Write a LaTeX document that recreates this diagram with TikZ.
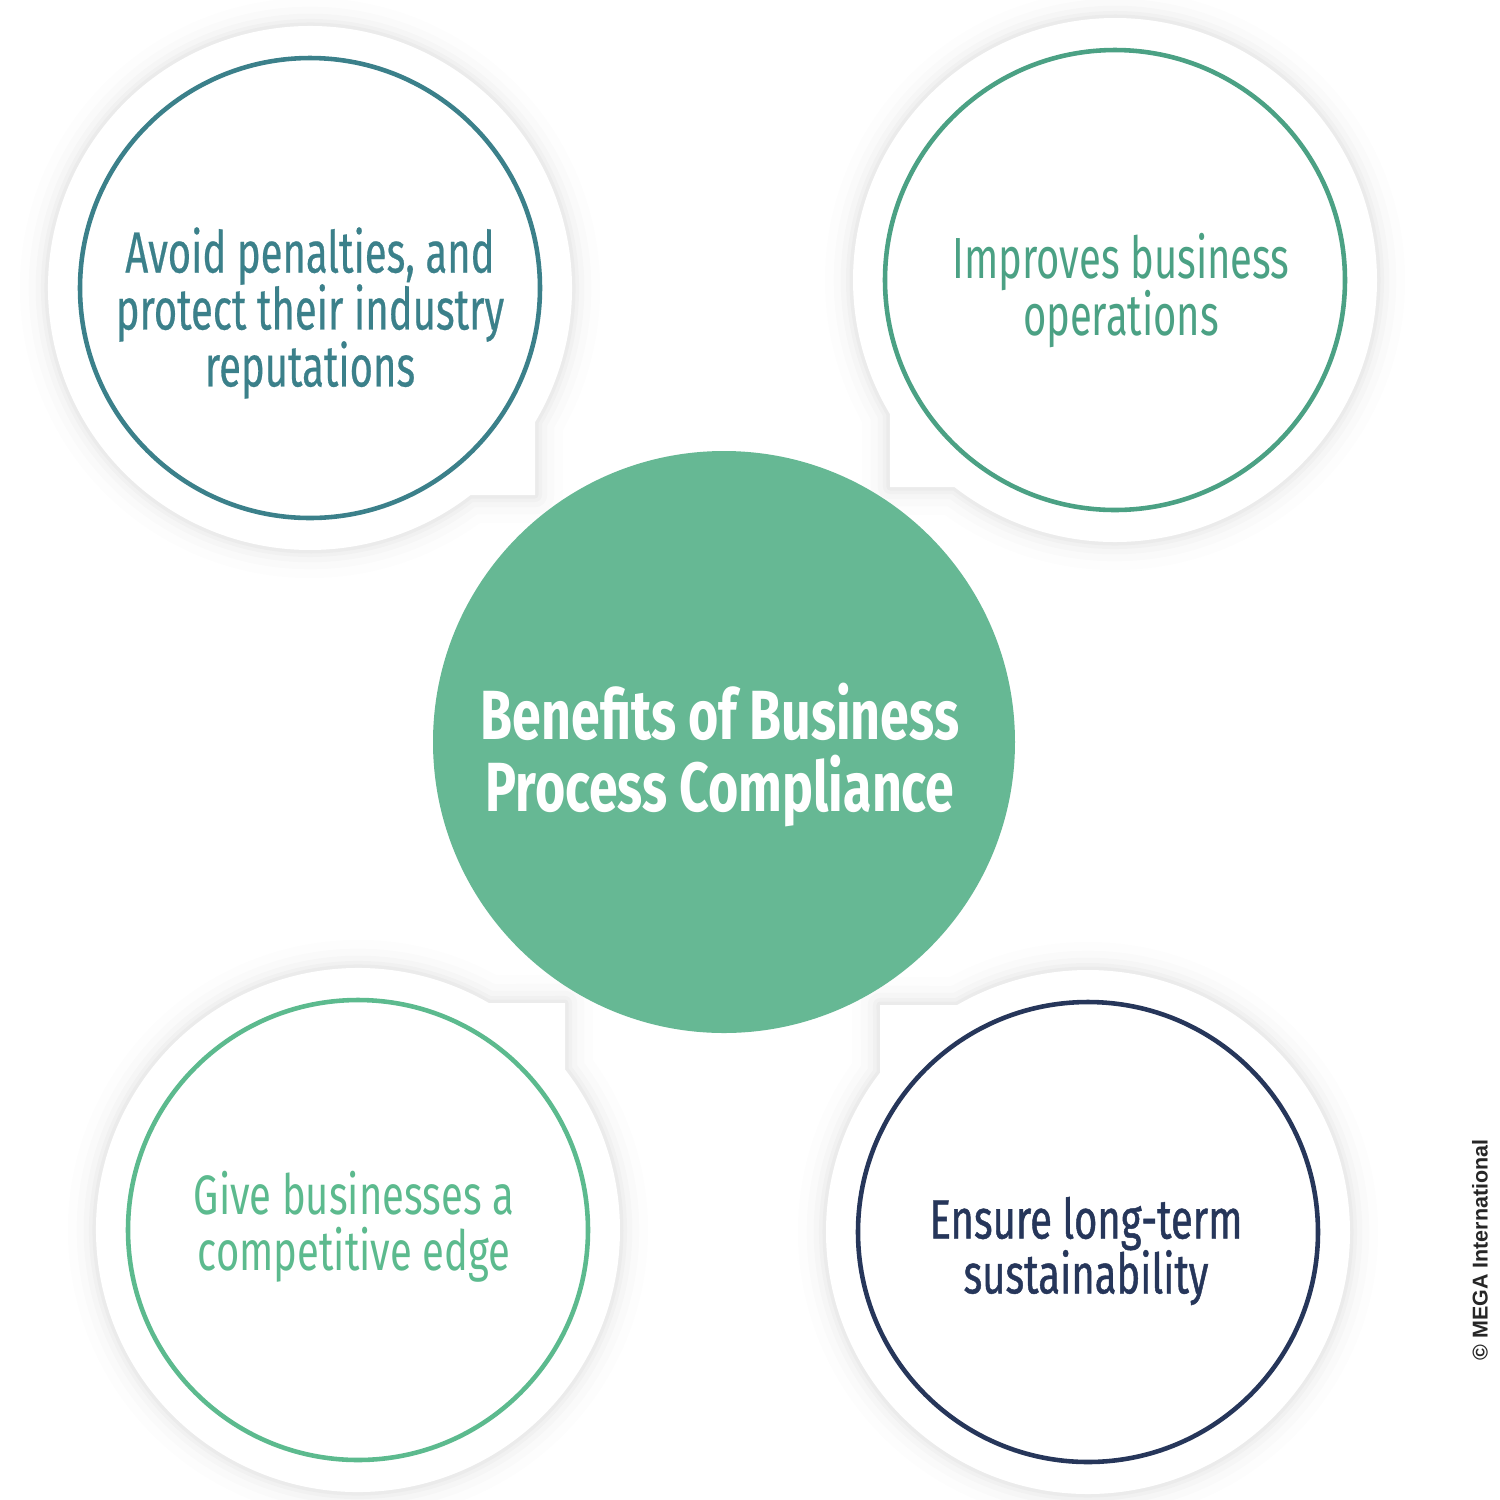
\documentclass[tikz,border=0pt]{standalone}
\usepackage{fontspec}
\newfontfamily\oswA[FakeStretch=0.69]{Fira Sans}
\newfontfamily\oswB[FakeStretch=0.72]{Fira Sans}
\newfontfamily\oswC[FakeStretch=0.745]{Fira Sans}
\newfontfamily\copyf{Liberation Sans}
\newcommand\tightlines{\lineskiplimit=-50pt\relax}
\definecolor{cTL}{HTML}{3B808A}
\definecolor{cTR}{HTML}{4BA184}
\definecolor{cBL}{HTML}{5CBA8E}
\definecolor{cBR}{HTML}{26365A}
\definecolor{cC}{HTML}{66B894}
\newcommand\blobshape[4]{%
  \foreach \w/\o in {16/0.008,11/0.011,7/0.014,4/0.018,2/0.022}{%
    \draw[line width=\w pt, black, opacity=\o, line join=round]
      (#1) ++(#2:2.62) arc[start angle=#2, end angle=#3, radius=2.62] -- (#4) -- cycle;}
  \fill[white] (#1) ++(#2:2.62) arc[start angle=#2, end angle=#3, radius=2.62] -- (#4) -- cycle;
}
\tikzset{
  ring/.style={draw, line width=1.3pt, circle, minimum size=4.6cm, inner sep=0pt},
  lbl/.style={align=center},
}
\begin{document}
\begin{tikzpicture}
\useasboundingbox (0,0) rectangle (15,-15);
\fill[white] (0,0) rectangle (15,-15);
\coordinate (tlc) at (3.10,-2.88);
\coordinate (trc) at (11.15,-2.80);
\coordinate (blc) at (3.58,-12.30);
\coordinate (brc) at (10.88,-12.32);
\coordinate (tlk) at (5.35,-4.95);
\coordinate (trk) at (8.90,-4.87);
\coordinate (blk) at (5.65,-10.03);
\coordinate (brk) at (8.80,-10.05);
\blobshape{tlc}{-30.8}{307.8}{tlk}
\blobshape{trc}{232.2}{570.8}{trk}
\blobshape{blc}{60}{397.8}{blk}
\blobshape{brc}{142.5}{480}{brk}
\node[ring, cTL] (tl) at (tlc) {};
\node[ring, cTR] (tr) at (trc) {};
\node[ring, cBL] (bl) at (blc) {};
\node[ring, cBR] (br) at (brc) {};
\node[circle, fill=cC, minimum size=5.82cm, inner sep=0pt] (c) at (7.24,-7.42) {};
\node[lbl, text=cTL, font=\oswA\addfontfeature{FakeBold=0.4}\fontsize{16.5}{16.2}\selectfont\tightlines] (tlt) at (3.10,-3.13) {Avoid penalties, and\\protect their industry\\reputations};
\node[lbl, text=cTR, font=\oswA\fontsize{16.5}{16.2}\selectfont\tightlines] (trt) at (11.21,-2.91) {Improves business\\operations};
\node[lbl, text=cBL, font=\oswB\fontsize{15.8}{15.8}\selectfont\tightlines] (blt) at (3.54,-12.27) {Give businesses a\\competitive edge};
\node[lbl, text=cBR, font=\oswB\addfontfeature{FakeBold=0.8}\fontsize{15.8}{15.6}\selectfont\tightlines] (brt) at (10.86,-12.51) {Ensure long-term\\sustainability};
\node[lbl, text=white, font=\oswC\bfseries\fontsize{19.8}{20.6}\selectfont\tightlines] (ct) at (7.20,-7.55) {Benefits of Business\\Process Compliance};
\node[rotate=90, text=black!85, font=\copyf\bfseries\fontsize{6.1}{7}\selectfont] (cp) at (14.80,-12.50) {© MEGA International};
\end{tikzpicture}
\end{document}
